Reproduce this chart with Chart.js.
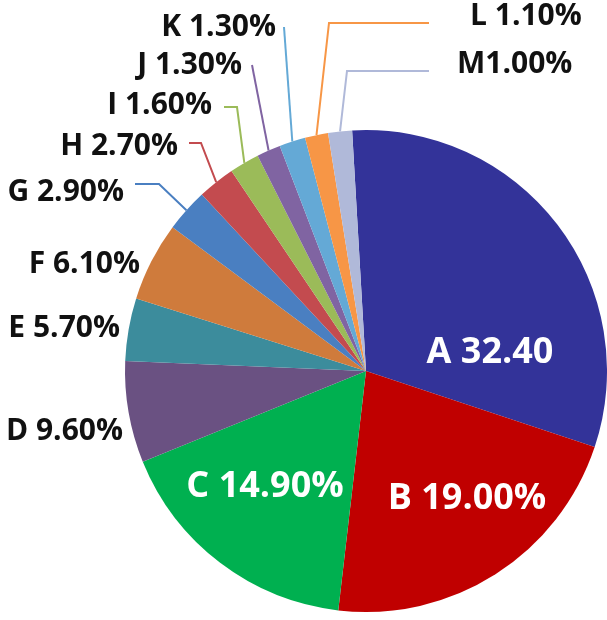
<!DOCTYPE html>
<html>
<head>
<meta charset="utf-8">
<script src="https://cdn.jsdelivr.net/npm/chart.js@4.4.1/dist/chart.umd.min.js"></script>
<style>
  html, body { margin: 0; padding: 0; background: #fff; }
  #wrap { width: 607px; height: 620px; }
</style>
</head>
<body>
<div id="wrap"><canvas id="pieChart"></canvas></div>
<script>
const categories = ['A', 'B', 'C', 'D', 'E', 'F', 'G', 'H', 'I', 'J', 'K', 'L', 'M'];
// slice sizes as they are drawn in the picture (the printed labels don't add up to these exactly)
const sliceShares = [31.0, 21.7, 17.0, 6.8, 4.2, 5.3, 2.9, 2.5, 2.0, 1.6, 1.75, 1.55, 1.6];
// label texts as printed on the chart
const sliceLabels = ['A 32.40', 'B 19.00%', 'C 14.90%', 'D 9.60%', 'E 5.70%', 'F 6.10%', 'G 2.90%',
                     'H 2.70%', 'I 1.60%', 'J 1.30%', 'K 1.30%', 'L 1.10%', 'M1.00%'];
const sliceColors = ['#333399', '#c00000', '#00b050', '#6a5182', '#3c8c9c', '#cf7b3c', '#4a7fc1',
                     '#c34b4f', '#9bbb59', '#8064a2', '#64a9d6', '#f79646', '#b0b9d9'];

// where each label sits, relative to the pie centre; leader = [start near text, elbow]
const labelSpots = [
  { x: 124, y: -18, align: 'center', size: 36, color: '#fff' },
  { x: 101, y: 128, align: 'center', size: 36, color: '#fff' },
  { x: -101, y: 116, align: 'center', size: 36, color: '#fff' },
  { x: -243, y: 60, align: 'right', size: 30 },
  { x: -246, y: -43, align: 'right', size: 30 },
  { x: -226, y: -107, align: 'right', size: 30 },
  { x: -242, y: -179, align: 'right', size: 30, leader: [[-231, -187], [-207, -187]] },
  { x: -188, y: -225, align: 'right', size: 30, leader: [[-177, -228], [-165, -228]] },
  { x: -154, y: -266, align: 'right', size: 30, leader: [[-142, -264], [-129, -264]] },
  { x: -124, y: -306, align: 'right', size: 30, leader: [[-114, -306]] },
  { x: -90, y: -344, align: 'right', size: 30, leader: [[-82, -344]] },
  { x: 104, y: -355, align: 'left', size: 30, leader: [[63, -348], [-37, -348]] },
  { x: 91, y: -307, align: 'left', size: 30, leader: [[63, -300], [-19, -300]] }
];

const sliceLabelPlugin = {
  id: 'sliceLabels',
  afterDatasetsDraw(chart) {
    const ctx = chart.ctx;
    const arcs = chart.getDatasetMeta(0).data;
    ctx.save();
    arcs.forEach((arc, i) => {
      const spot = labelSpots[i];
      const cx = arc.x, cy = arc.y;
      if (spot.leader) {
        const mid = (arc.startAngle + arc.endAngle) / 2;
        const ex = cx + Math.cos(mid) * arc.outerRadius;
        const ey = cy + Math.sin(mid) * arc.outerRadius;
        ctx.beginPath();
        spot.leader.forEach((p, k) => {
          if (k === 0) ctx.moveTo(cx + p[0], cy + p[1]);
          else ctx.lineTo(cx + p[0], cy + p[1]);
        });
        ctx.lineTo(ex, ey);
        ctx.strokeStyle = sliceColors[i];
        ctx.lineWidth = 2;
        ctx.stroke();
      }
      ctx.font = 'bold ' + spot.size + 'px "Open Sans"';
      ctx.fillStyle = spot.color || '#111';
      ctx.textAlign = spot.align;
      ctx.textBaseline = 'middle';
      ctx.fillText(sliceLabels[i], cx + spot.x, cy + spot.y);
    });
    ctx.restore();
  }
};

new Chart(document.getElementById('pieChart'), {
  type: 'pie',
  data: {
    labels: categories,
    datasets: [{
      data: sliceShares,
      backgroundColor: sliceColors,
      borderWidth: 0
    }]
  },
  options: {
    responsive: true,
    maintainAspectRatio: false,
    animation: false,
    rotation: -3.3,
    layout: { padding: { left: 125, right: 0, top: 130, bottom: 8 } },
    plugins: {
      legend: { display: false },
      tooltip: { enabled: false }
    }
  },
  plugins: [sliceLabelPlugin]
});
</script>
</body>
</html>
